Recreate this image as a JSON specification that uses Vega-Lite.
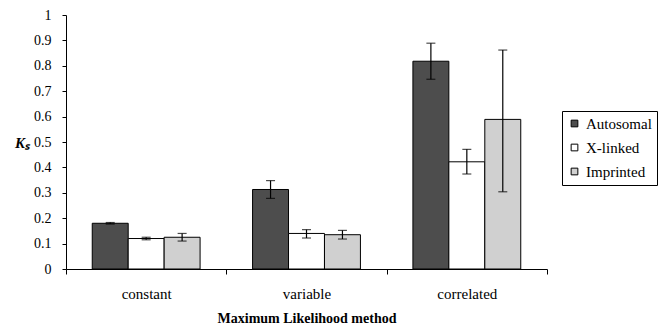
{
  "$schema": "https://vega.github.io/schema/vega-lite/v6.json",
  "width": 481,
  "height": 254,
  "autosize": "none",
  "padding": {"left": 66, "top": 15, "right": 114, "bottom": 59},
  "background": "white",
  "config": {
    "font": "Liberation Serif",
    "view": {"stroke": null},
    "axis": {"grid": false, "domainColor": "black", "tickColor": "black", "labelColor": "black", "titleColor": "black", "labelFont": "Liberation Serif", "titleFont": "Liberation Serif"},
    "axisY": {
      "labelOverlap": false,
      "labelFontSize": 14, "tickSize": 4, "labelPadding": 11,
      "titleAngle": 0, "titleX": -44, "titleY": 127,
      "titleAlign": "center", "titleBaseline": "middle", "titleFontSize": 15,
      "titleFontWeight": "bold", "titleFontStyle": "italic"
    }
  },
  "data": {
    "values": [
      {"method": "constant", "series": "Autosomal", "ks": 0.18, "lo": 0.177, "hi": 0.183},
      {"method": "constant", "series": "X-linked", "ks": 0.12, "lo": 0.115, "hi": 0.125},
      {"method": "constant", "series": "Imprinted", "ks": 0.125, "lo": 0.11, "hi": 0.14},
      {"method": "variable", "series": "Autosomal", "ks": 0.313, "lo": 0.278, "hi": 0.348},
      {"method": "variable", "series": "X-linked", "ks": 0.14, "lo": 0.122, "hi": 0.155},
      {"method": "variable", "series": "Imprinted", "ks": 0.135, "lo": 0.118, "hi": 0.152},
      {"method": "correlated", "series": "Autosomal", "ks": 0.818, "lo": 0.747, "hi": 0.889},
      {"method": "correlated", "series": "X-linked", "ks": 0.422, "lo": 0.374, "hi": 0.471},
      {"method": "correlated", "series": "Imprinted", "ks": 0.589, "lo": 0.304, "hi": 0.862}
    ]
  },
  "encoding": {
    "x": {
      "field": "method", "type": "nominal", "sort": ["constant", "variable", "correlated"],
      "scale": {"paddingInner": 0, "paddingOuter": 0},
      "axis": {
        "title": "Maximum Likelihood method", "labelAngle": 0, "labelFontSize": 15,
        "ticks": true, "tickBand": "extent", "tickSize": 5, "labelPadding": 12,
        "titleFontSize": 14, "titleFontWeight": "bold", "titleY": 49, "titleBaseline": "middle"
      }
    },
    "xOffset": {
      "field": "series", "type": "nominal", "sort": ["Autosomal", "X-linked", "Imprinted"],
      "scale": {"paddingInner": 0, "paddingOuter": 0.73}
    }
  },
  "layer": [
    {
      "mark": {"type": "bar", "stroke": "black", "strokeWidth": 1},
      "encoding": {
        "y": {"field": "ks", "type": "quantitative", "scale": {"domain": [0, 1]}, "title": "Kₛ",
              "axis": {"values": [0, 0.1, 0.2, 0.3, 0.4, 0.5, 0.6, 0.7, 0.8, 0.9, 1], "format": "~g"}},
        "fill": {
          "field": "series", "type": "nominal", "sort": ["Autosomal", "X-linked", "Imprinted"],
          "scale": {"domain": ["Autosomal", "X-linked", "Imprinted"], "range": ["#4d4d4d", "#ffffff", "#d0d0d0"]},
          "legend": {
            "title": null, "orient": "none", "legendX": 496, "legendY": 96,
            "strokeColor": "black", "padding": 5, "labelFontSize": 15, "labelColor": "black",
            "symbolType": "square", "symbolSize": 45, "symbolStrokeColor": "black", "symbolStrokeWidth": 1,
            "rowPadding": 8, "labelOffset": 4
          }
        }
      }
    },
    {
      "mark": {"type": "rule", "color": "black", "strokeWidth": 1.2},
      "encoding": {"y": {"field": "lo", "type": "quantitative", "title": "Kₛ",
                         "axis": {"values": [0, 0.1, 0.2, 0.3, 0.4, 0.5, 0.6, 0.7, 0.8, 0.9, 1], "format": "~g"}},
                   "y2": {"field": "hi"}}
    },
    {
      "mark": {"type": "tick", "color": "black", "size": 9, "thickness": 1.2, "orient": "horizontal"},
      "encoding": {"y": {"field": "lo", "type": "quantitative", "title": "Kₛ",
                         "axis": {"values": [0, 0.1, 0.2, 0.3, 0.4, 0.5, 0.6, 0.7, 0.8, 0.9, 1], "format": "~g"}}}
    },
    {
      "mark": {"type": "tick", "color": "black", "size": 9, "thickness": 1.2, "orient": "horizontal"},
      "encoding": {"y": {"field": "hi", "type": "quantitative", "title": "Kₛ",
                         "axis": {"values": [0, 0.1, 0.2, 0.3, 0.4, 0.5, 0.6, 0.7, 0.8, 0.9, 1], "format": "~g"}}}
    }
  ]
}
